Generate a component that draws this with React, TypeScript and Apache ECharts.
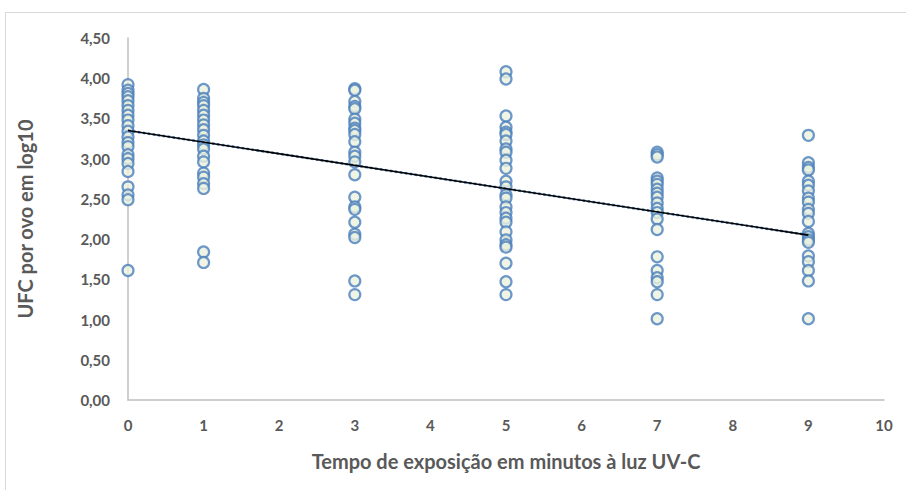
import React, { useEffect, useRef } from "react";
import * as echarts from "echarts";

// Exposure times (minutes of UV-C light)
const minutes = [0, 1, 3, 5, 7, 9];

// CFU per egg (log10) measured at each exposure time
const cfu0 = [3.92, 3.85, 3.81, 3.77, 3.72, 3.66, 3.60, 3.54, 3.48, 3.41, 3.34, 3.27, 3.20, 3.15, 3.05, 3.00, 2.94, 2.84, 2.65, 2.55, 2.49, 1.61];
const cfu1 = [3.86, 3.75, 3.70, 3.66, 3.60, 3.54, 3.48, 3.42, 3.36, 3.29, 3.22, 3.17, 3.12, 3.03, 2.96, 2.82, 2.77, 2.69, 2.63, 1.84, 1.71];
const cfu3 = [3.87, 3.85, 3.71, 3.65, 3.62, 3.49, 3.44, 3.38, 3.35, 3.30, 3.21, 3.08, 3.03, 2.96, 2.80, 2.52, 2.40, 2.37, 2.21, 2.06, 2.02, 1.48, 1.31];
const cfu5 = [4.08, 3.99, 3.53, 3.39, 3.33, 3.30, 3.22, 3.12, 3.08, 2.98, 2.88, 2.72, 2.65, 2.55, 2.51, 2.40, 2.33, 2.26, 2.21, 2.09, 1.99, 1.93, 1.90, 1.70, 1.47, 1.31];
const cfu7 = [3.08, 3.05, 3.02, 2.76, 2.72, 2.68, 2.62, 2.57, 2.52, 2.45, 2.38, 2.33, 2.25, 2.12, 1.78, 1.61, 1.52, 1.47, 1.31, 1.01];
const cfu9 = [3.29, 2.95, 2.89, 2.86, 2.72, 2.67, 2.60, 2.51, 2.46, 2.37, 2.32, 2.22, 2.07, 2.03, 1.99, 1.96, 1.79, 1.72, 1.61, 1.48, 1.01];
const cfuByTime = [cfu0, cfu1, cfu3, cfu5, cfu7, cfu9];

// Linear trendline y = a + b·x
const trendIntercept = 3.35;
const trendSlope = -0.1445;
const trendRange = [0, 9];

// Axis ticks
const xTicks = { min: 0, max: 10, step: 1 };
const yTicks = { min: 0, max: 4.5, step: 0.5 };

const FONT = "Lato, 'Open Sans', sans-serif";
const GREY = "#595959";

export default function App() {
  const ref = useRef<HTMLDivElement>(null);

  useEffect(() => {
    if (!ref.current) return;
    const chart = echarts.init(ref.current, undefined, { renderer: "svg" });

    const points: number[][] = [];
    minutes.forEach((t, i) => cfuByTime[i].forEach((v) => points.push([t, v])));
    const trend = trendRange.map((x) => [x, trendIntercept + trendSlope * x]);

    chart.setOption({
      animation: false,
      grid: { left: 128, right: 22, top: 38, bottom: 90 },
      xAxis: {
        type: "value",
        min: xTicks.min,
        max: xTicks.max,
        interval: xTicks.step,
        name: "Tempo de exposição em minutos à luz UV-C",
        nameLocation: "middle",
        nameGap: 51,
        nameTextStyle: { color: GREY, fontFamily: FONT, fontSize: 20, fontWeight: "bold" },
        axisLine: { show: true, lineStyle: { color: "#BFBFBF", width: 1.5 } },
        axisTick: { show: false },
        splitLine: { show: false },
        axisLabel: { color: GREY, fontFamily: FONT, fontSize: 15, fontWeight: "bold", margin: 17 },
      },
      yAxis: {
        type: "value",
        min: yTicks.min,
        max: yTicks.max,
        interval: yTicks.step,
        name: "UFC por ovo em log10",
        nameLocation: "middle",
        nameGap: 93,
        nameTextStyle: { color: GREY, fontFamily: FONT, fontSize: 20, fontWeight: "bold" },
        axisLine: { show: true, lineStyle: { color: "#BFBFBF", width: 1.5 } },
        axisTick: { show: false },
        splitLine: { show: false },
        axisLabel: {
          color: GREY,
          fontFamily: FONT,
          fontSize: 15,
          fontWeight: "bold",
          margin: 18,
          formatter: (v: number) => v.toFixed(2).replace(".", ","),
        },
      },
      series: [
        {
          type: "scatter",
          data: points,
          symbol: "circle",
          symbolSize: 11,
          itemStyle: { color: "#EBF1DE", borderColor: "#4A7EBB", borderWidth: 2.2 },
          z: 2,
        },
        {
          type: "line",
          data: trend,
          symbol: "none",
          lineStyle: { color: "#4A7EBB", width: 2.5, type: "dotted" },
          z: 3,
        },
        {
          type: "line",
          data: trend,
          symbol: "none",
          lineStyle: { color: "#000000", width: 1.6 },
          z: 4,
        },
      ],
    });

    return () => chart.dispose();
  }, []);

  return (
    <div
      style={{
        position: "fixed",
        left: 0,
        top: 0,
        width: 906,
        height: 490,
        background: "#fff",
        overflow: "hidden",
      }}
    >
      <div
        style={{
          position: "absolute",
          left: 5,
          top: 12,
          width: 1000,
          height: 600,
          border: "1.5px solid #D9D9D9",
          boxSizing: "border-box",
        }}
      />
      <div ref={ref} style={{ position: "absolute", left: 0, top: 0, width: 906, height: 490 }} />
    </div>
  );
}
